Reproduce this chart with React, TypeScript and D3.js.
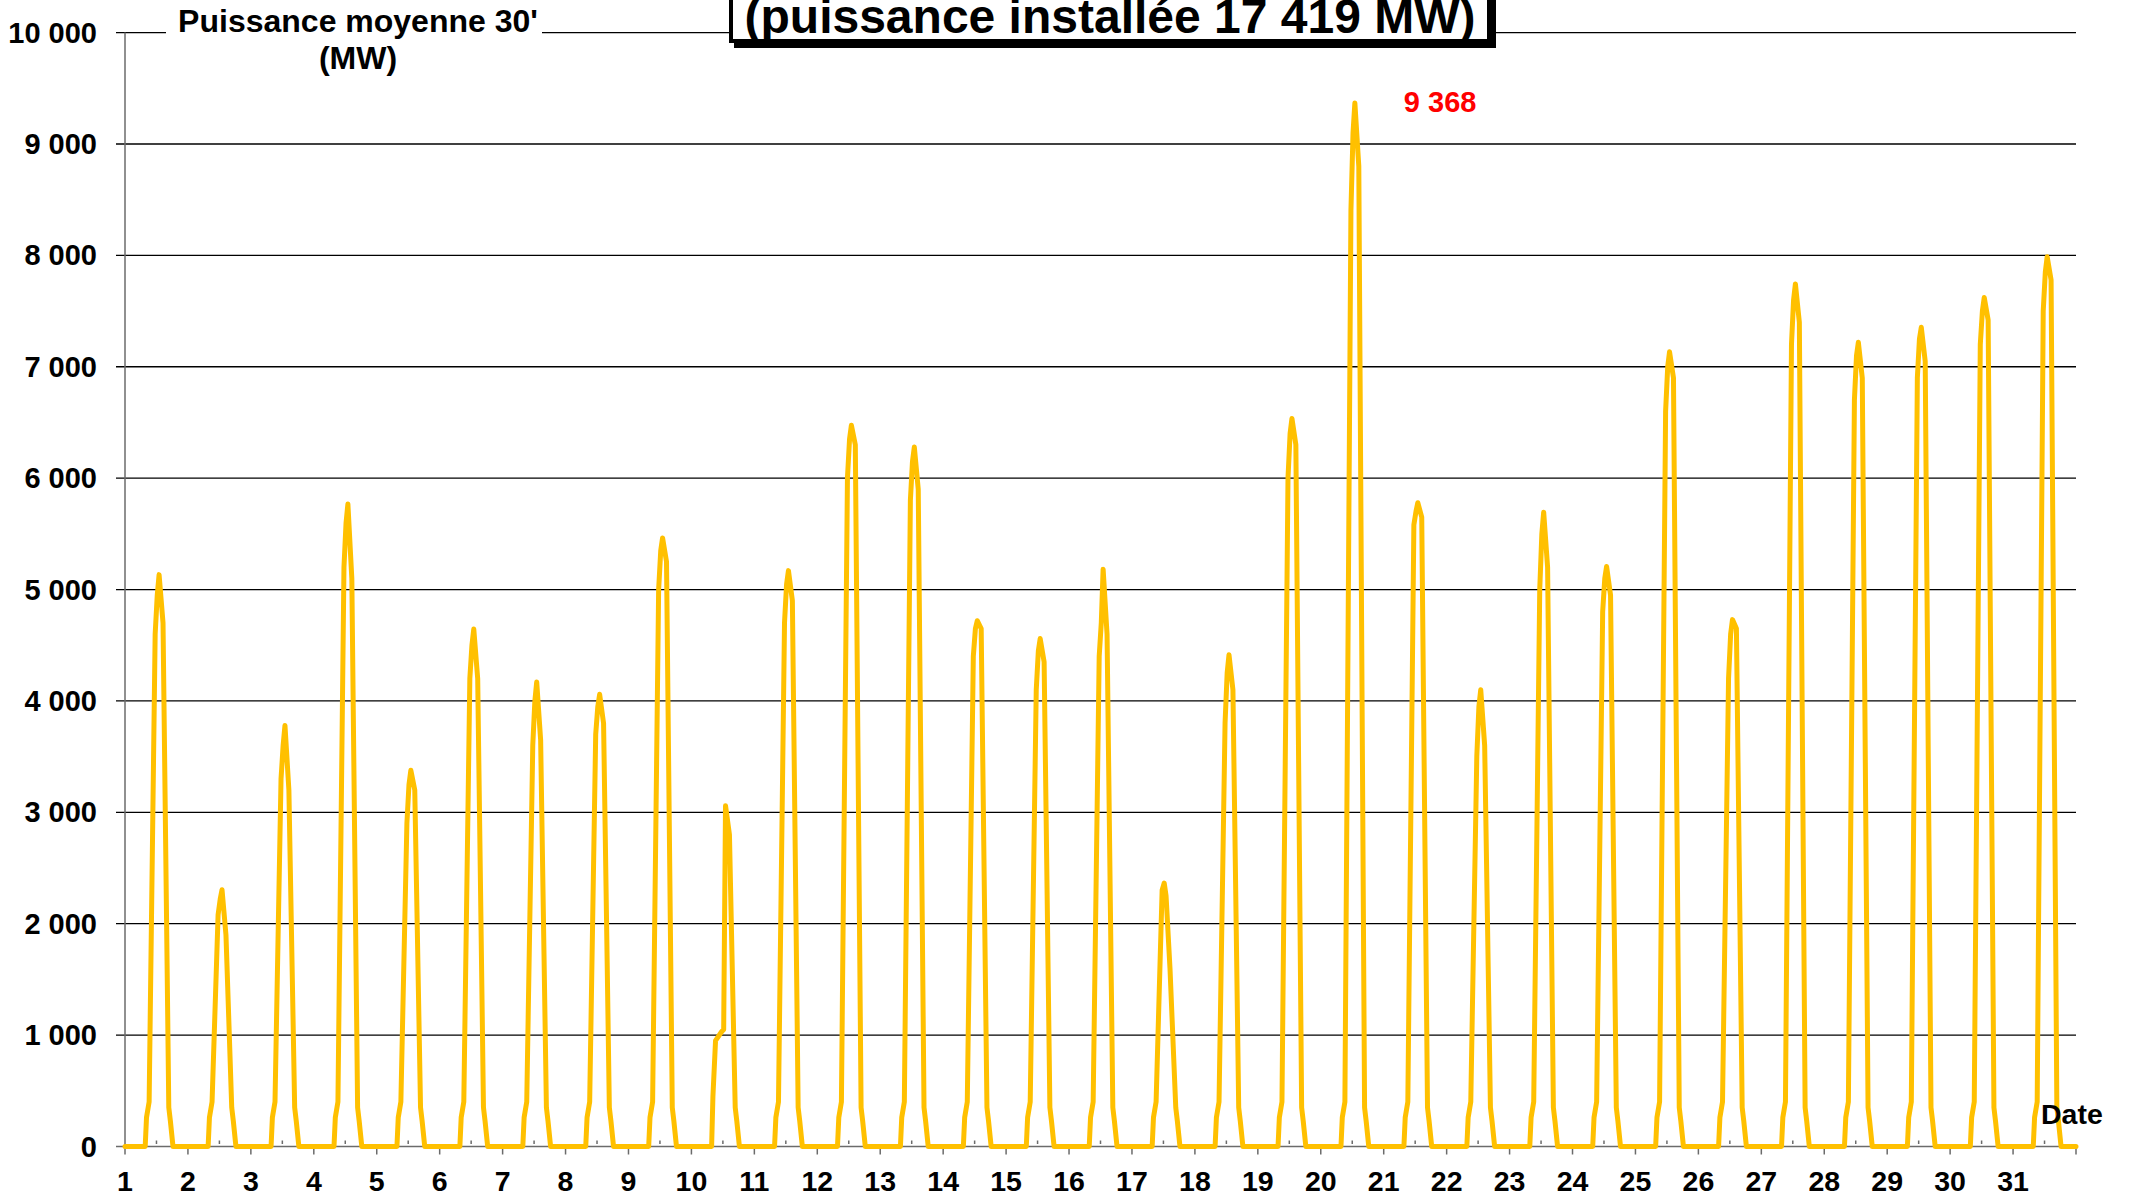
import { useMemo } from 'react'
import * as d3 from 'd3'

// ── data ─────────────────────────────────────────────────────────────────────
const TITLE    = '(puissance installée 17 419 MW)'
const Y_TITLE  = ["Puissance moyenne 30'", '(MW)']
const X_TITLE  = 'Date'
const DAYS     = d3.range(1, 32)
const Y_TICKS  = [0, 1000, 2000, 3000, 4000, 5000, 6000, 7000, 8000, 9000, 10000]
const PEAK     = { day: 20, hour: 13, value: 9368, label: '9 368' }

// hours of the day at which each daily profile is read
const HOURS = [7.7, 8.2, 9.2, 11.5, 12.3, 13, 14.5, 16.7, 17.3, 18.3]

// MW read at HOURS, one row per day of the month
const DAILY_MW = [
  [0, 260, 400, 4600, 4950, 5134, 4700, 350, 230, 0],  // 1
  [0, 260, 400, 2080, 2220, 2305, 1900, 350, 230, 0],  // 2
  [0, 260, 400, 3300, 3600, 3780, 3200, 350, 230, 0],  // 3
  [0, 260, 400, 5200, 5600, 5768, 5100, 350, 230, 0],  // 4
  [0, 260, 400, 2900, 3250, 3378, 3200, 350, 230, 0],  // 5
  [0, 260, 400, 4200, 4500, 4646, 4200, 350, 230, 0],  // 6
  [0, 260, 400, 3600, 4000, 4170, 3650, 350, 230, 0],  // 7
  [0, 260, 400, 3700, 3950, 4060, 3800, 350, 230, 0],  // 8
  [0, 260, 400, 5000, 5350, 5463, 5250, 350, 230, 0],  // 9
  [0, 450, 950, 1030, 1050, 3060, 2800, 350, 230, 0],  // 10
  [0, 260, 400, 4700, 5050, 5170, 4900, 350, 230, 0],  // 11
  [0, 260, 400, 6000, 6350, 6475, 6300, 350, 230, 0],  // 12
  [0, 260, 400, 5800, 6150, 6280, 5900, 350, 230, 0],  // 13
  [0, 260, 400, 4400, 4650, 4720, 4650, 350, 230, 0],  // 14
  [0, 260, 400, 4100, 4450, 4560, 4350, 350, 230, 0],  // 15
  [0, 260, 400, 4400, 4700, 5183, 4600, 350, 230, 0],  // 16
  [0, 260, 400, 2300, 2365, 2250, 1600, 350, 230, 0],  // 17
  [0, 260, 400, 3800, 4250, 4415, 4100, 350, 230, 0],  // 18
  [0, 260, 400, 6000, 6400, 6536, 6300, 350, 230, 0],  // 19
  [0, 260, 400, 8400, 9100, 9368, 8800, 350, 230, 0],  // 20
  [0, 260, 400, 5580, 5700, 5780, 5650, 350, 230, 0],  // 21
  [0, 260, 400, 3500, 3950, 4100, 3600, 350, 230, 0],  // 22
  [0, 260, 400, 5000, 5500, 5695, 5200, 350, 230, 0],  // 23
  [0, 260, 400, 4800, 5100, 5207, 4950, 350, 230, 0],  // 24
  [0, 260, 400, 6600, 7000, 7134, 6900, 350, 230, 0],  // 25
  [0, 260, 400, 4200, 4600, 4730, 4650, 350, 230, 0],  // 26
  [0, 260, 400, 7200, 7600, 7744, 7400, 350, 230, 0],  // 27
  [0, 260, 400, 6700, 7100, 7220, 6900, 350, 230, 0],  // 28
  [0, 260, 400, 6900, 7250, 7354, 7050, 350, 230, 0],  // 29
  [0, 260, 400, 7200, 7500, 7622, 7420, 350, 230, 0],  // 30
  [0, 260, 400, 7500, 7850, 7988, 7780, 350, 230, 0],  // 31
]

// ── constants ────────────────────────────────────────────────────────────────
const W      = 2130
const H      = 1198
const PL     = 125
const PR     = 2076
const PT     = 32.6
const PB     = 1146.5
const FONT   = 'Liberation Sans, Arial, Helvetica, sans-serif'
const C_LINE = '#FFC000'
const C_AXIS = '#6b6b6b'

const fmt = d3.formatLocale({ decimal: ',', thousands: ' ', grouping: [3], currency: ['', ''] }).format(',')

type Pt = { t: number; v: number }

export default function App() {
  const x = d3.scaleLinear().domain([1, 32]).range([PL, PR])
  const y = d3.scaleLinear().domain([0, 10000]).range([PB, PT])

  const series = useMemo(() => {
    const pts: Pt[] = [{ t: 1, v: 0 }]
    DAYS.forEach((d, i) => {
      HOURS.forEach((h, j) => pts.push({ t: d + h / 24, v: DAILY_MW[i][j] }))
    })
    pts.push({ t: 32, v: 0 })
    return pts
  }, [])

  const line = d3.line<Pt>().x(d => x(d.t)).y(d => y(d.v))

  const px = x(PEAK.day + PEAK.hour / 24)
  const py = y(PEAK.value)

  return (
    <svg width={W} height={H} viewBox={`0 0 ${W} ${H}`}
      style={{ position: 'absolute', left: 0, top: 0, display: 'block', background: '#fff' }}
      fontFamily={FONT} fontWeight="bold">
      <rect width={W} height={H} fill="#fff" />

      {/* grid */}
      {Y_TICKS.filter(v => v > 0).map(v => (
        <line key={v} x1={PL - 9} x2={PR} y1={y(v)} y2={y(v)} stroke="#000" strokeWidth={1.3} />
      ))}

      {/* y axis */}
      <line x1={PL} x2={PL} y1={y(10000)} y2={y(0)} stroke={C_AXIS} strokeWidth={1.5} />
      {Y_TICKS.map(v => (
        <text key={v} x={97} y={y(v) + 10} textAnchor="end" fontSize={29}>{fmt(v)}</text>
      ))}

      {/* x axis */}
      <line x1={PL - 9} x2={PR} y1={y(0)} y2={y(0)} stroke={C_AXIS} strokeWidth={1.5} />
      {[...DAYS, 32].map(d => (
        <line key={'M' + d} x1={x(d)} x2={x(d)} y1={y(0)} y2={y(0) + 8} stroke={C_AXIS} strokeWidth={1.5} />
      ))}
      {DAYS.map(d => (
        <text key={'l' + d} x={x(d)} y={1191} textAnchor="middle" fontSize={28.5}>{d}</text>
      ))}

      {/* series */}
      <path d={line(series) ?? ''} fill="none" stroke={C_LINE} strokeWidth={5}
        strokeLinejoin="round" strokeLinecap="round" />

      {/* minor ticks drawn over the base line */}
      {DAYS.map(d => (
        <line key={'m' + d} x1={x(d + 0.5)} x2={x(d + 0.5)} y1={y(0) - 6} y2={y(0) - 2.5} stroke={C_AXIS} strokeWidth={1.5} />
      ))}

      {/* y axis title */}
      <rect x={166} y={4} width={376} height={76} fill="#fff" />
      <text x={358} y={32} textAnchor="middle" fontSize={32}>{Y_TITLE[0]}</text>
      <text x={358} y={69} textAnchor="middle" fontSize={32}>{Y_TITLE[1]}</text>

      {/* chart title box (clipped at top) */}
      <rect x={736} y={-55} width={758} height={101} fill="#000" stroke="#000" strokeWidth={4} />
      <rect x={731} y={-60} width={758} height={101} fill="#fff" stroke="#000" strokeWidth={4} />
      <text x={1110} y={33} textAnchor="middle" fontSize={48}>{TITLE}</text>

      {/* max annotation */}
      <text x={px + 49} y={py + 9} fontSize={29} fill="#FF0000">{PEAK.label}</text>

      <text x={2041} y={1124} fontSize={28.5}>{X_TITLE}</text>
    </svg>
  )
}
